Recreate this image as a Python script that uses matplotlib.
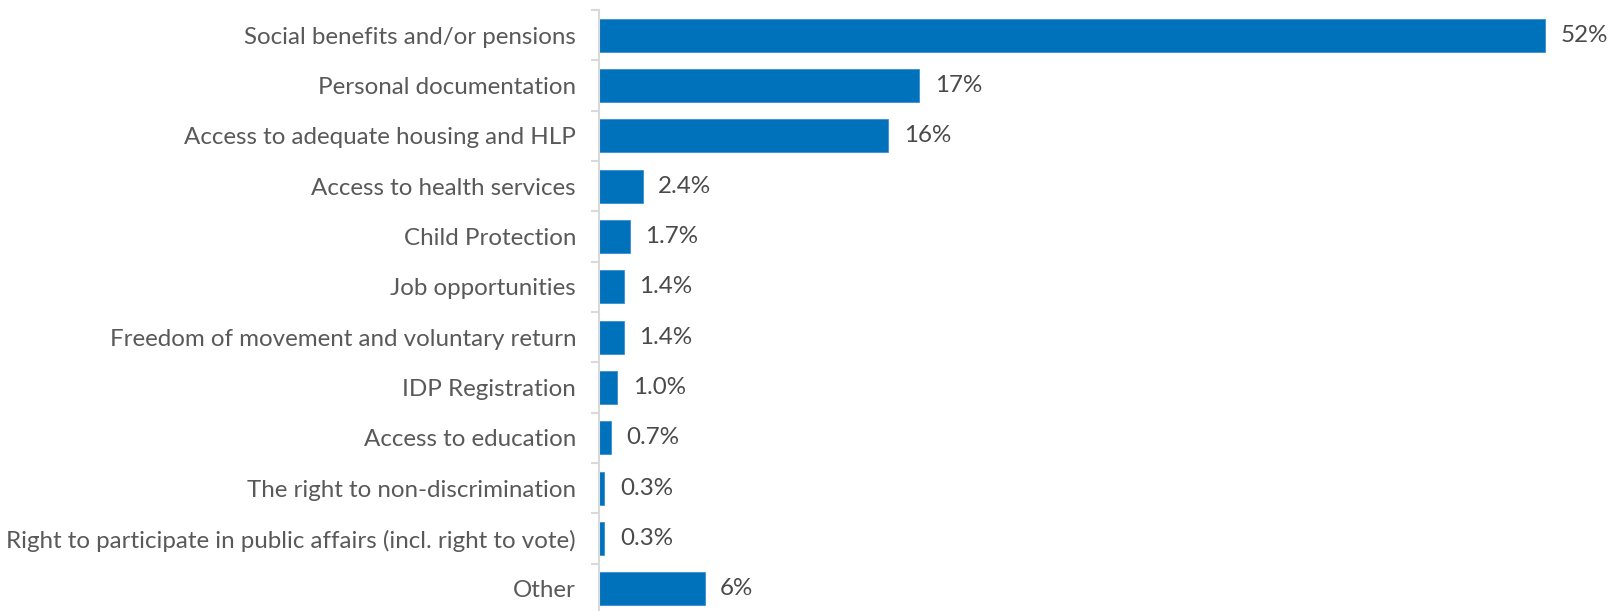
import matplotlib.pyplot as plt

categories = [
    "Social benefits and/or pensions",
    "Personal documentation",
    "Access to adequate housing and HLP",
    "Access to health services",
    "Child Protection",
    "Job opportunities",
    "Freedom of movement and voluntary return",
    "IDP Registration",
    "Access to education",
    "The right to non-discrimination",
    "Right to participate in public affairs (incl. right to vote)",
    "Other",
]
values = [52.0, 17.6, 15.9, 2.4, 1.7, 1.35, 1.35, 1.0, 0.65, 0.3, 0.3, 5.8]
value_labels = ["52%", "17%", "16%", "2.4%", "1.7%", "1.4%", "1.4%", "1.0%",
                "0.7%", "0.3%", "0.3%", "6%"]

plt.rcParams['font.family'] = ['Lato', 'DejaVu Sans']

W, H = 1612, 611
fig = plt.figure(figsize=(W / 100, H / 100), dpi=100)
ax = fig.add_axes([599 / W, -3 / H, 1 - 599 / W, 604 / H])

ypos = list(range(len(categories)))
ax.barh(ypos, values, height=0.66, color='#0072BC', edgecolor='#3a8fd0',
        linewidth=0.6)

for y, v, lab in zip(ypos, values, value_labels):
    ax.text(v + 0.85, y, lab, va='center', ha='left', fontsize=17.4,
            color='#4a4a4a')

ax.set_xlim(0, (W - 599) / 18.2)
ax.set_ylim(len(categories) - 0.5, -0.5)
ax.set_yticks(ypos)
ax.set_yticklabels(categories, fontsize=17.4, color='#595959')
ax.tick_params(axis='y', which='major', length=0, pad=16.5)
ax.set_yticks([i - 0.5 for i in range(len(categories) + 1)], minor=True)
ax.tick_params(axis='y', which='minor', length=6, width=1.5, color='#d9d9d9')
ax.set_xticks([])

for s in ['top', 'right', 'bottom']:
    ax.spines[s].set_visible(False)
ax.spines['left'].set_color('#d9d9d9')
ax.spines['left'].set_linewidth(1.5)

fig.savefig('out.png', dpi=100)
